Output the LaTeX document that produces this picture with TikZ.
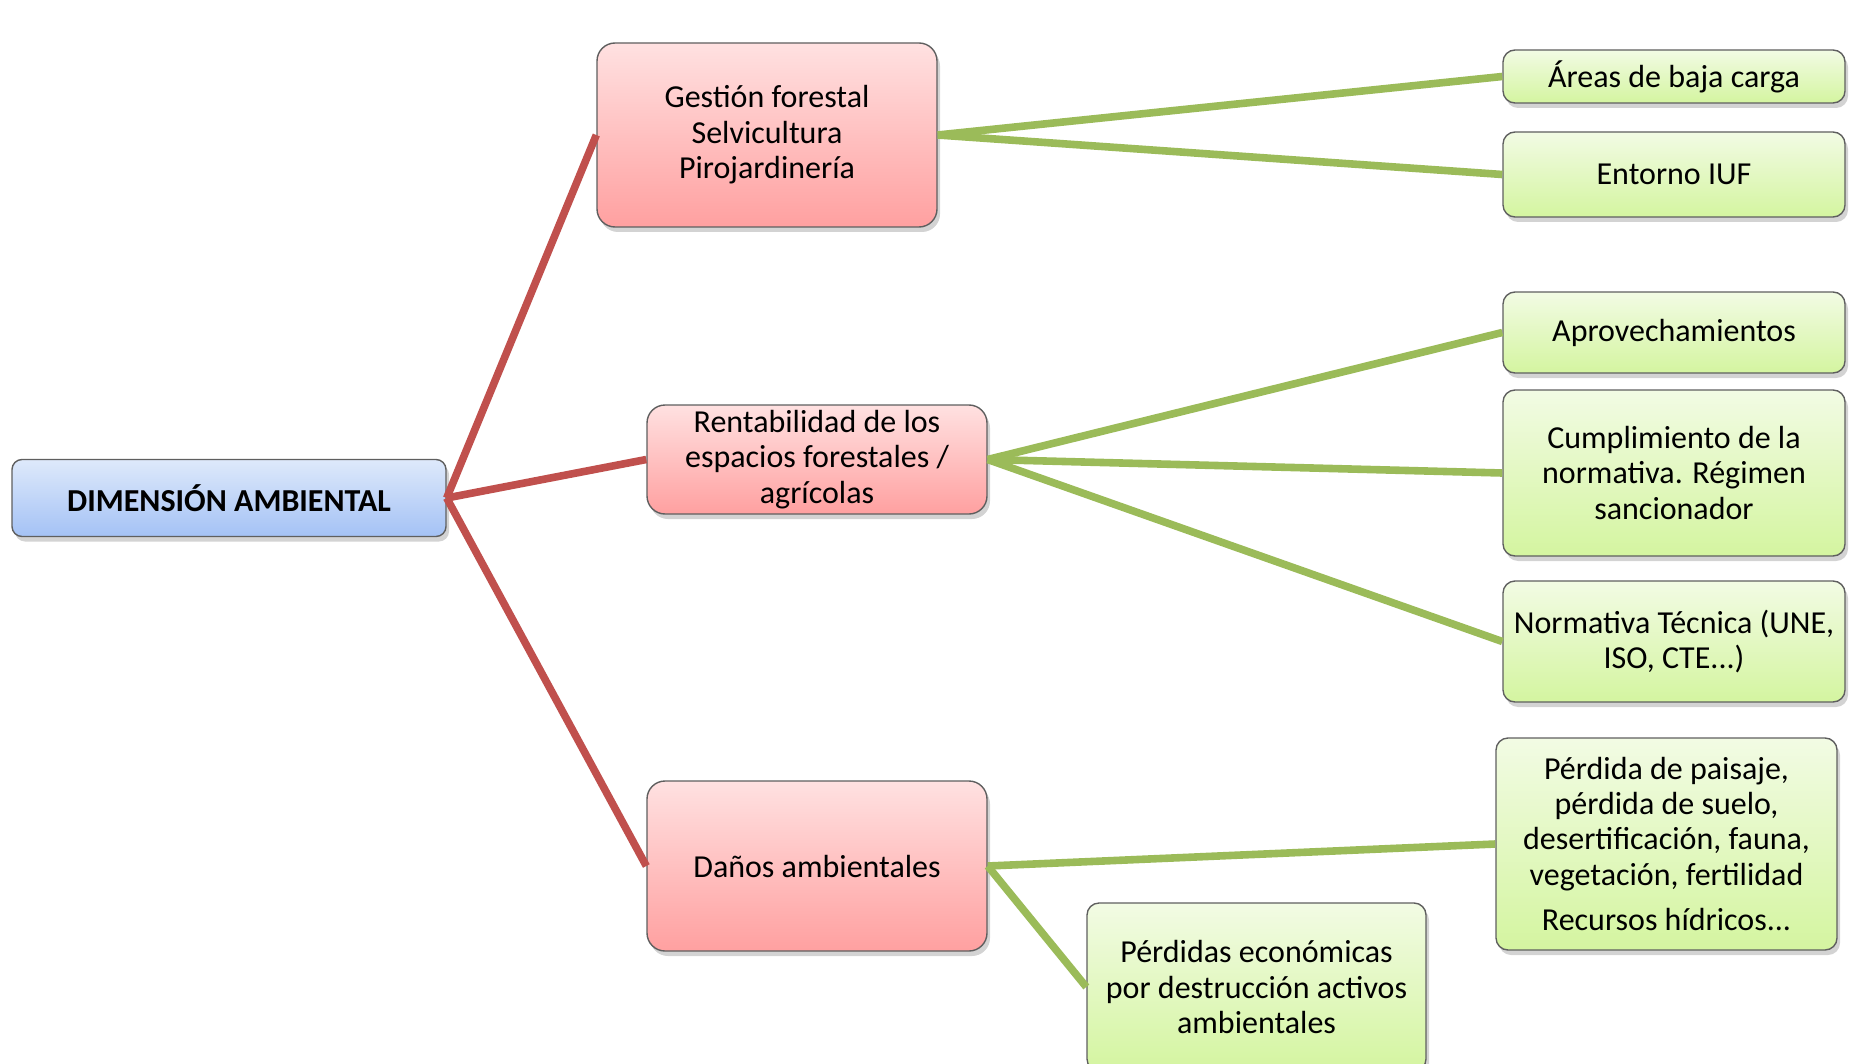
\documentclass[tikz,border=0pt]{standalone}
\usepackage{fontspec}
\setmainfont{Carlito}
\usepackage{tikz}
\usetikzlibrary{shadows}
\definecolor{blueTop}{RGB}{222,233,251}
\definecolor{blueBot}{RGB}{164,194,245}
\definecolor{redTop}{RGB}{255,225,225}
\definecolor{redBot}{RGB}{255,160,160}
\definecolor{greenTop}{RGB}{242,251,228}
\definecolor{greenBot}{RGB}{212,245,160}
\definecolor{redLine}{RGB}{192,80,77}
\definecolor{greenLine}{RGB}{155,187,89}
\definecolor{edgeGray}{RGB}{95,95,95}
\tikzstyle{mapbox}=[rectangle,rounded corners=9pt,draw=edgeGray,line width=0.7pt,align=center,inner sep=1pt,font=\fontsize{16}{17.7}\selectfont,drop shadow={shadow xshift=1.5pt,shadow yshift=-2.5pt,opacity=0.35}]
\tikzstyle{root}=[mapbox,top color=blueTop,bottom color=blueBot,rounded corners=5pt,font=\fontsize{16}{17.7}\selectfont\bfseries]
\tikzstyle{branch}=[mapbox,top color=redTop,bottom color=redBot]
\tikzstyle{leaf}=[mapbox,top color=greenTop,bottom color=greenBot,rounded corners=6pt]
\tikzstyle{redlink}=[draw=redLine,line width=3.8pt]
\tikzstyle{greenlink}=[draw=greenLine,line width=3.8pt]

\begin{document}
\begin{tikzpicture}[x=0.5pt,y=-0.5pt]
      \useasboundingbox (0,0) rectangle (1851,1064);
      \clip (0,0) rectangle (1851,1064);
      % root and branches
      \node[root,minimum width=217pt,minimum height=38.5pt] at (229,498) (dim) {DIMENSIÓN AMBIENTAL};
      \node[branch,minimum width=170pt,minimum height=92pt] at (767,135) (gest) {Gestión forestal\\Selvicultura\\Pirojardinería};
      \node[branch,minimum width=170pt,minimum height=54.5pt] at (817,459.5) (rent) {Rentabilidad de los\\espacios forestales /\\agrícolas};
      \node[branch,minimum width=170pt,minimum height=85pt] at (817,866) (danos) {Daños ambientales};
      % leaves
      \node[leaf,minimum width=171pt,minimum height=26.5pt] at (1674,76.5) (areas) {Áreas de baja carga};
      \node[leaf,minimum width=171pt,minimum height=42.5pt] at (1674,174.5) (iuf) {Entorno IUF};
      \node[leaf,minimum width=171pt,minimum height=40.5pt] at (1674,332.5) (aprov) {Aprovechamientos};
      \node[leaf,minimum width=171pt,minimum height=83pt] at (1674,473) (cumpl) {Cumplimiento de la\\normativa. Régimen\\sancionador};
      \node[leaf,minimum width=171pt,minimum height=60.5pt] at (1674,641.5) (norma) {Normativa Técnica (UNE,\\ISO, CTE...)};
      \node[leaf,minimum width=170.5pt,minimum height=106pt] at (1666.5,844) (paisaje) {Pérdida de paisaje,\\pérdida de suelo,\\desertificación, fauna,\\vegetación, fertilidad\\[5pt]Recursos hídricos...};
      \node[leaf,minimum width=169.5pt,minimum height=84pt] at (1256.5,987) (econ) {Pérdidas económicas\\por destrucción activos\\ambientales};
      % connectors
      \draw[redlink] (dim.east) -- (gest.west);
      \draw[redlink] (dim.east) -- (rent.west);
      \draw[redlink] (dim.east) -- (danos.west);
      \draw[greenlink] (gest.east) -- (areas.west);
      \draw[greenlink] (gest.east) -- (iuf.west);
      \draw[greenlink] (rent.east) -- (aprov.west);
      \draw[greenlink] (rent.east) -- (cumpl.west);
      \draw[greenlink] (rent.east) -- (norma.west);
      \draw[greenlink] (danos.east) -- (paisaje.west);
      \draw[greenlink] (danos.east) -- (econ.west);
    \end{tikzpicture}
\end{document}
